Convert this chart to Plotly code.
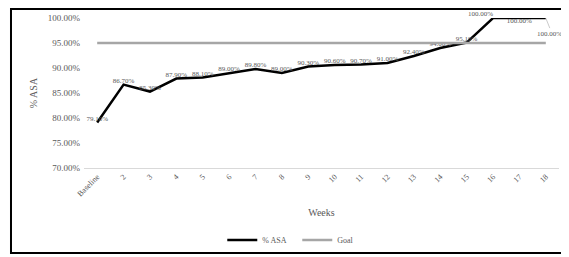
import plotly.graph_objects as go

weeks = ["Baseline", "2", "3", "4", "5", "6", "7", "8", "9", "10", "11", "12", "13", "14", "15", "16", "17", "18"]
asa = [79.1, 86.7, 85.3, 87.9, 88.1, 89.0, 89.8, 89.0, 90.3, 90.6, 90.7, 91.0, 92.4, 94.0, 95.1, 100.0, 100.0, 100.0]
goal = [95.0] * len(weeks)
y_ticks = [70, 75, 80, 85, 90, 95, 100]

FONT = "Liberation Serif, Times New Roman, serif"
GRAY = "#595959"

labels = ["%.2f%%" % v for v in asa]
labels[-1] = ""
positions = ["top center"] * len(weeks)
positions[15] = "top left"
positions[16] = "bottom center"

fig = go.Figure()
fig.add_trace(go.Scatter(
    x=weeks, y=asa, name="% ASA", mode="lines+text",
    line=dict(color="black", width=2.5),
    text=labels, textposition=positions, cliponaxis=False,
    textfont=dict(family=FONT, size=7, color=GRAY),
))
fig.add_trace(go.Scatter(
    x=weeks, y=goal, name="Goal", mode="lines",
    line=dict(color="#a6a6a6", width=2.5),
))

# label of last point with a leader line (category index of the last week)
fig.add_annotation(
    x=len(weeks) - 1, y=asa[-1], text="%.2f%%" % asa[-1],
    showarrow=True, arrowhead=0, arrowwidth=0.6, arrowcolor="#a6a6a6",
    ax=4, ay=10, xanchor="center", yanchor="top",
    font=dict(family=FONT, size=7, color=GRAY),
)

fig.add_shape(type="rect", xref="paper", yref="paper",
              x0=-0.1537, x1=1.0168, y0=-0.5667, y1=1.06,
              line=dict(color="black", width=2))

fig.update_layout(
    width=561, height=249,
    margin=dict(l=76, r=10, t=10, b=89, autoexpand=False),
    paper_bgcolor="white", plot_bgcolor="white",
    font=dict(family=FONT, color=GRAY, size=9),
    showlegend=True,
    legend=dict(orientation="h", x=0.449, xanchor="center", y=-0.48, yanchor="middle",
                bgcolor="rgba(0,0,0,0)",
                font=dict(family=FONT, size=8, color=GRAY), itemwidth=30,
                entrywidth=30, tracegroupgap=0),
    xaxis=dict(
        type="category", categoryorder="array", categoryarray=weeks,
        range=[-0.5, len(weeks) - 0.5], autorange=False,
        tickangle=-45, tickfont=dict(family=FONT, size=8, color=GRAY),
        showline=True, linecolor="#d9d9d9", linewidth=1, automargin=False,
        ticks="", showgrid=False, zeroline=False,
        title=dict(text="Weeks", font=dict(family=FONT, size=10, color=GRAY), standoff=11),
    ),
    yaxis=dict(
        range=[70, 100.02], tickvals=y_ticks, automargin=False,
        ticktext=["%.2f%%" % v for v in y_ticks],
        tickfont=dict(family=FONT, size=9, color=GRAY), ticklabelstandoff=3,
        showgrid=False, zeroline=False, showline=False, ticks="",
        title=dict(text="% ASA", font=dict(family=FONT, size=10, color=GRAY), standoff=8),
    ),
)

fig.write_html("out.html")
